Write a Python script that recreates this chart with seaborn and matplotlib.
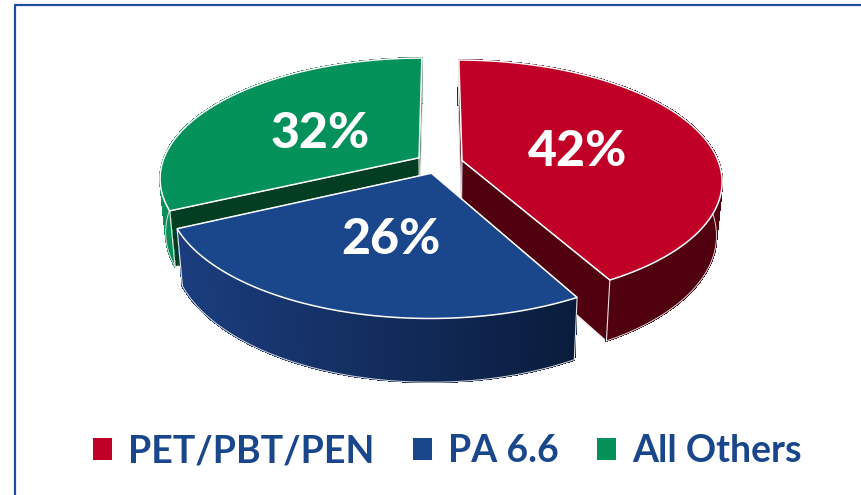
from matplotlib import pyplot as plt
from matplotlib.patches import Patch
from matplotlib.colors import to_rgb
import seaborn as sns
import numpy as np

categories = ['PET/PBT/PEN', 'PA 6.6', 'All Others']
shares = [42, 26, 32]
tick_labels = ['42%', '26%', '32%']

####### PLOT PARAMS #######
TOP_COLORS = ['#C00026', '#1A468C', '#05915A']
WALL_FROM = ['#50000F', '#1B3D7E', '#0B8F58']
WALL_TO = ['#50000F', '#0A1C3C', '#034A2B']
CUT_COLORS = ['#50000F', '#0A1C3C', '#033D22']
TEXT_BLUE = '#1A468C'
LABEL_POS = [(578, 152), (391, 239), (320, 134)]
EXPLODE = [(0.09, 0.023), (-0.029, 0.13), (-0.078, 0.0)]
DRAW_ORDER = [2, 0, 1]

# projection of the tilted disk onto the picture, in pixels
CX, CY = 439, 157.8
RX, RY = 255, 116
PERSP = 0.163
DEPTH = 52
SHRINK = 0.98
##### END PLOT PARAMS #####


def project(u, v):
    w = 1 / (1 - PERSP * v)
    x = CX + RX * u * w
    y = CY + RY * v * w
    x_low = CX + (x - CX) * SHRINK
    y_low = y + DEPTH * w
    return x, y, x_low, y_low


def blend(c1, c2, t):
    a, b = np.array(to_rgb(c1)), np.array(to_rgb(c2))
    return tuple(a + (b - a) * t)


def i_z(i):
    return 2 + DRAW_ORDER.index(i)


def draw_slice(ax, start, end, offset, i):
    th = np.radians(np.linspace(start, end, 121))
    u = np.sin(th) + offset[0]
    v = -np.cos(th) + offset[1]
    x, y, x_low, y_low = project(u, v)
    ax_, ay_, ax_low, ay_low = project(np.array([offset[0]]), np.array([offset[1]]))

    # the two cut faces go under the wall
    for k in [0, -1]:
        ax.fill([ax_[0], x[k], x_low[k], ax_low[0]],
                [ay_[0], y[k], y_low[k], ay_low[0]],
                facecolor=CUT_COLORS[i], edgecolor='#E4E4E4', lw=0.7, zorder=i_z(i))

    # outer wall, drawn in thin strips so the shade can run along it
    x_min, x_max = x.min(), x.max()
    for k in range(len(th) - 1):
        t = ((x[k] + x[k + 1]) / 2 - x_min) / (x_max - x_min)
        c = blend(WALL_FROM[i], WALL_TO[i], t)
        ax.fill([x[k], x[k + 1], x_low[k + 1], x_low[k]],
                [y[k], y[k + 1], y_low[k + 1], y_low[k]],
                facecolor=c, edgecolor=c, lw=0.8, antialiased=False, zorder=i_z(i) + 0.1)
    ax.plot(x_low, y_low, color='#D9D9D9', lw=0.7, zorder=i_z(i) + 0.1)
    ax.plot([x[0], x_low[0]], [y[0], y_low[0]], color='#E4E4E4', lw=0.8, zorder=i_z(i) + 0.1)
    ax.plot([x[-1], x_low[-1]], [y[-1], y_low[-1]], color='#E4E4E4', lw=0.8, zorder=i_z(i) + 0.1)

    # top face
    ax.fill(np.r_[ax_, x], np.r_[ay_, y], facecolor=TOP_COLORS[i],
            edgecolor='white', lw=1.1, zorder=i_z(i) + 0.2)


def main():
    sns.set_theme(style='white')
    plt.rcParams['font.family'] = ['Lato', 'DejaVu Sans']

    fig = plt.figure(figsize=(8.61, 4.95), dpi=100)
    ax = fig.add_axes([0, 0, 1, 1])
    ax.set_xlim(0, 861)
    ax.set_ylim(495, 0)
    ax.axis('off')

    ax.plot([14.5, 14.5, 861], [495, 5, 5], color='#1F4E9C', lw=1.6, zorder=1)

    edges = np.r_[0, np.cumsum(shares)] / sum(shares) * 360
    for i in DRAW_ORDER:
        draw_slice(ax, edges[i], edges[i + 1], EXPLODE[i], i)

    for i, lab in enumerate(tick_labels):
        ax.text(LABEL_POS[i][0], LABEL_POS[i][1], lab, color='white', fontsize=36,
                fontweight=900, ha='center', va='center', zorder=10)

    handles = [Patch(facecolor=TOP_COLORS[i], edgecolor='none', label=categories[i])
               for i in range(len(categories))]
    ax.legend(handles=handles, ncol=3, loc='center', bbox_to_anchor=(0.5197, 0.088),
              frameon=False, labelcolor=TEXT_BLUE, handlelength=0.5,
              handleheight=0.5, handletextpad=0.43, columnspacing=1.03,
              prop={'family': 'Lato', 'weight': 'bold', 'size': 27})

    fig.savefig('out.png', dpi=100)


main()
